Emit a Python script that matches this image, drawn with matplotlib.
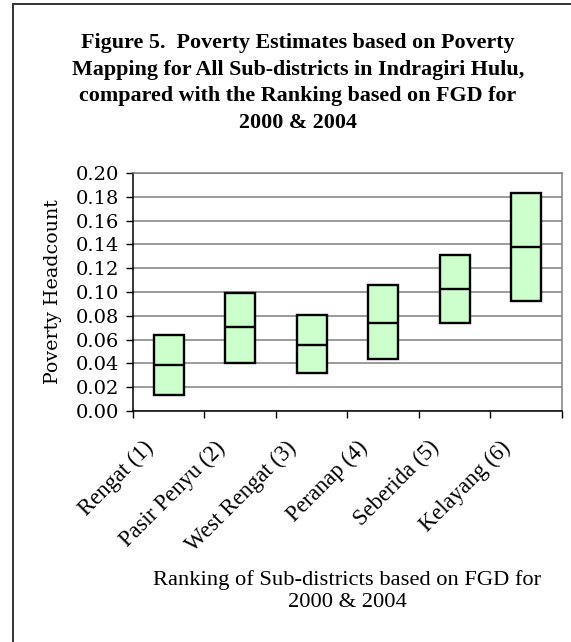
import matplotlib.pyplot as plt
import matplotlib.patches as mpatches
from matplotlib.transforms import ScaledTranslation

subdistricts = ["Rengat (1)", "Pasir Penyu (2)", "West Rengat (3)",
                "Peranap (4)", "Seberida (5)", "Kelayang (6)"]
low = [0.0135, 0.0405, 0.032, 0.0435, 0.074, 0.0925]
estimate = [0.0385, 0.0705, 0.0555, 0.074, 0.1027, 0.138]
high = [0.0635, 0.0995, 0.0805, 0.106, 0.131, 0.183]
yticks = [0.00, 0.02, 0.04, 0.06, 0.08, 0.10, 0.12, 0.14, 0.16, 0.18, 0.20]

TITLE = ("Figure 5.  Poverty Estimates based on Poverty\n"
         "Mapping for All Sub-districts in Indragiri Hulu,\n"
         "compared with the Ranking based on FGD for\n"
         "2000 & 2004")
XLABEL = "Ranking of Sub-districts based on FGD for\n2000 & 2004"
SERIF_WIDE = ["DejaVu Serif"]
SERIF = ["Liberation Serif", "DejaVu Serif"]

fig = plt.figure(figsize=(5.71, 6.42), dpi=100)
fig.patches.append(mpatches.Rectangle((13 / 571, -0.1), 1.2, (638 / 642) + 0.1,
                                      transform=fig.transFigure, fill=False,
                                      edgecolor="#333333", linewidth=1.4))
fig.text(298 / 571, 1 - 83 / 642, TITLE, ha="center", va="center",
         family=SERIF, weight="bold", fontsize=15.8, linespacing=1.45)

ax = fig.add_axes([133 / 571, 1 - 411 / 642, (561.7 - 133) / 571, (411 - 173) / 642])
x = list(range(len(subdistricts)))
width = 0.42
ax.bar(x, [h - l for h, l in zip(high, low)], bottom=low, width=width,
       color="#CCFFCC", edgecolor="black", linewidth=1.7, zorder=3)
ax.hlines(estimate, [i - width / 2 for i in x], [i + width / 2 for i in x],
          color="black", linewidth=1.7, zorder=4)

ax.set_xlim(-0.5, len(subdistricts) - 0.5)
ax.set_ylim(0, 0.2)
ax.set_yticks(yticks)
ax.set_yticklabels([f"{v:.2f}" for v in yticks], family=SERIF_WIDE, fontsize=14)
ax.yaxis.grid(True, color="#808080", linewidth=1.1, zorder=0)
ax.set_xticks([i + 0.5 for i in range(-1, len(subdistricts))])
ax.set_xticklabels([])
ax.tick_params(axis="both", direction="out", length=5, width=1, color="black")
ax.tick_params(axis="y", pad=5)
for side in ("top", "right"):
    ax.spines[side].set_color("#808080")
    ax.spines[side].set_linewidth(1.1)
for side in ("left", "bottom"):
    ax.spines[side].set_linewidth(1.1)

ax.set_ylabel("Poverty Headcount", family=SERIF_WIDE, fontsize=13.7, labelpad=10)

shift = ScaledTranslation(-11 / 100, -26 / 100, fig.dpi_scale_trans)
label_trans = ax.get_xaxis_transform() + shift
for i, name in enumerate(subdistricts):
    ax.text(i, 0, name, rotation=45, ha="right", va="top",
            family=SERIF, fontsize=16.3, transform=label_trans)

fig.text(347 / 571, 1 - 591 / 642, XLABEL, ha="center", va="center",
         family=SERIF, fontsize=16.2, linespacing=1.2)

fig.savefig("out.png", dpi=100, facecolor="white")
